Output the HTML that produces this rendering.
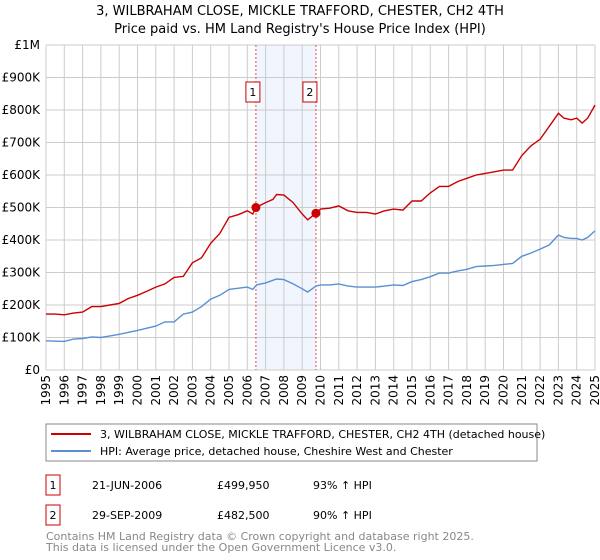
<!DOCTYPE html>
<html><head><meta charset="utf-8"><style>
body{margin:0;background:#fff;width:600px;height:560px;overflow:hidden;font-family:"DejaVu Sans","Liberation Sans",sans-serif;}
svg{display:block}
</style></head><body>
<svg id="chart" width="600" height="560" xmlns="http://www.w3.org/2000/svg">
<text x="300" y="15" text-anchor="middle" font-size="13">3, WILBRAHAM CLOSE, MICKLE TRAFFORD, CHESTER, CH2 4TH</text>
<text x="300" y="33" text-anchor="middle" font-size="13">Price paid vs. HM Land Registry's House Price Index (HPI)</text>
<g id="grid"></g><g id="axes"></g><g id="series"></g><g id="marks"></g>
<rect x="46" y="424" width="491" height="37" fill="#fff" stroke="#888"/>
<line x1="51" y1="434" x2="91" y2="434" stroke="#cc0000" stroke-width="2"/>
<text x="100" y="438" font-size="11">3, WILBRAHAM CLOSE, MICKLE TRAFFORD, CHESTER, CH2 4TH (detached house)</text>
<line x1="51" y1="451" x2="91" y2="451" stroke="#5b8fd4" stroke-width="2"/>
<text x="100" y="455" font-size="11">HPI: Average price, detached house, Cheshire West and Chester</text>
<g font-size="11">
<rect x="46" y="475" width="14" height="20" fill="#fff" stroke="#cc0000"/>
<text x="53" y="489" text-anchor="middle">1</text>
<text x="92" y="489">21-JUN-2006</text>
<text x="217" y="489">£499,950</text>
<text x="313" y="489">93% ↑ HPI</text>
<rect x="46" y="505" width="14" height="20" fill="#fff" stroke="#cc0000"/>
<text x="53" y="519" text-anchor="middle">2</text>
<text x="92" y="519">29-SEP-2009</text>
<text x="217" y="519">£482,500</text>
<text x="313" y="519">90% ↑ HPI</text>
</g>
<text x="46" y="540" font-size="11" fill="#888">Contains HM Land Registry data © Crown copyright and database right 2025.</text>
<text x="46" y="551" font-size="11" fill="#888">This data is licensed under the Open Government Licence v3.0.</text>
</svg>
<script>
const redYears=[1995,1995.5,1996,1996.5,1997,1997.5,1998,1998.5,1999,1999.5,2000,2000.5,2001,2001.5,2002,2002.5,2003,2003.5,2004,2004.5,2005,2005.5,2006,2006.3,2006.47,2007,2007.4,2007.6,2008,2008.5,2009,2009.3,2009.75,2010,2010.5,2011,2011.5,2012,2012.5,2013,2013.5,2014,2014.5,2015,2015.5,2016,2016.5,2017,2017.5,2018,2018.5,2019,2019.5,2020,2020.5,2021,2021.5,2022,2022.5,2023,2023.3,2023.7,2024,2024.3,2024.6,2025];
const redValues=[172,172,170,175,178,195,195,200,205,220,230,242,255,265,285,288,330,345,390,420,470,478,490,480,500,515,525,540,538,515,480,462,482,495,498,505,490,485,485,480,490,495,492,520,520,545,565,565,580,590,600,605,610,615,615,660,690,710,750,790,775,770,775,760,775,815];
const blueYears=[1995,1996,1996.5,1997,1997.5,1998,1998.5,1999,2000,2001,2001.5,2002,2002.5,2003,2003.5,2004,2004.5,2005,2006,2006.3,2006.5,2007,2007.6,2008,2008.5,2009,2009.3,2009.75,2010,2010.5,2011,2011.5,2012,2013,2013.5,2014,2014.5,2015,2015.5,2016,2016.5,2017,2017.5,2018,2018.5,2019,2019.5,2020,2020.5,2021,2021.5,2022,2022.5,2023,2023.3,2023.7,2024,2024.3,2024.6,2025];
const blueValues=[90,88,95,97,102,100,105,110,122,135,148,148,172,178,195,218,230,248,255,248,262,268,280,278,265,250,240,258,262,262,265,258,255,255,258,262,260,272,278,287,298,298,305,310,318,320,322,325,328,350,360,372,385,415,408,405,405,400,408,428];
const saleYears=[2006.47,2009.75];
const saleValues=[499.95,482.5];
const saleLabels=["1","2"];
const yTickValues=[0,100,200,300,400,500,600,700,800,900,1000];
const yTickLabels=["£0","£100K","£200K","£300K","£400K","£500K","£600K","£700K","£800K","£900K","£1M"];
const xTickYears=[1995,1996,1997,1998,1999,2000,2001,2002,2003,2004,2005,2006,2007,2008,2009,2010,2011,2012,2013,2014,2015,2016,2017,2018,2019,2020,2021,2022,2023,2024,2025];

const NS="http://www.w3.org/2000/svg";
const L=46,R=595,T=45,B=370;
const xs=y=>L+(y-1995)/30*(R-L);
const ys=v=>B-v/1000*(B-T);
function el(tag,attrs,parent,txt){const e=document.createElementNS(NS,tag);for(const k in attrs)e.setAttribute(k,attrs[k]);if(txt!==undefined)e.textContent=txt;parent.appendChild(e);return e;}
const grid=document.getElementById('grid'),axes=document.getElementById('axes'),series=document.getElementById('series'),marks=document.getElementById('marks');
const band=el('rect',{x:xs(saleYears[0]),y:T,width:xs(saleYears[1])-xs(saleYears[0]),height:B-T,fill:'#eef3fc',opacity:0.8},grid);


yTickValues.forEach((v,i)=>{
  const g=el('line',{x1:L,x2:R,y1:ys(v),y2:ys(v),stroke:'#ccc'},grid);
  
  
  const t=el('text',{x:L-6,y:ys(v)+4,'text-anchor':'end','font-size':12},axes,yTickLabels[i]);
  
  
});
xTickYears.forEach(y=>{
  const g=el('line',{x1:xs(y),x2:xs(y),y1:T,y2:B,stroke:'#ccc'},grid);
  
  
  const t=el('text',{x:0,y:0,'text-anchor':'end','font-size':12,transform:`translate(${xs(y)+4},${375}) rotate(-90)`},axes,String(y));
  
  
});
saleYears.forEach((y,i)=>{
  const l=el('line',{x1:xs(y),x2:xs(y),y1:T,y2:B,stroke:'#e05050','stroke-dasharray':'2,2'},grid);
  
  
});
function path(xa,va,color,name){
  const d=xa.map((x,i)=>(i?'L':'M')+xs(x).toFixed(1)+','+ys(va[i]).toFixed(1)).join('');
  const p=el('path',{d,fill:'none',stroke:color,'stroke-width':1.4},series);
  
  
}
path(blueYears,blueValues,'#5b8fd4','hpi-line');
path(redYears,redValues,'#cc0000','property-price-line');
saleYears.forEach((y,i)=>{
  const c=el('circle',{cx:xs(y),cy:ys(saleValues[i]),r:4.5,fill:'#cc0000'},marks);
  
  
  const bx=xs(y)-(i==0?4:7);
  const r=el('rect',{x:bx-6,y:82,width:14,height:20,fill:'#fff',stroke:'#cc0000'},marks);
  
  
  const t=el('text',{x:bx+1,y:96,'text-anchor':'middle','font-size':11},marks,saleLabels[i]);
  
  
});
</script>
</body></html>
